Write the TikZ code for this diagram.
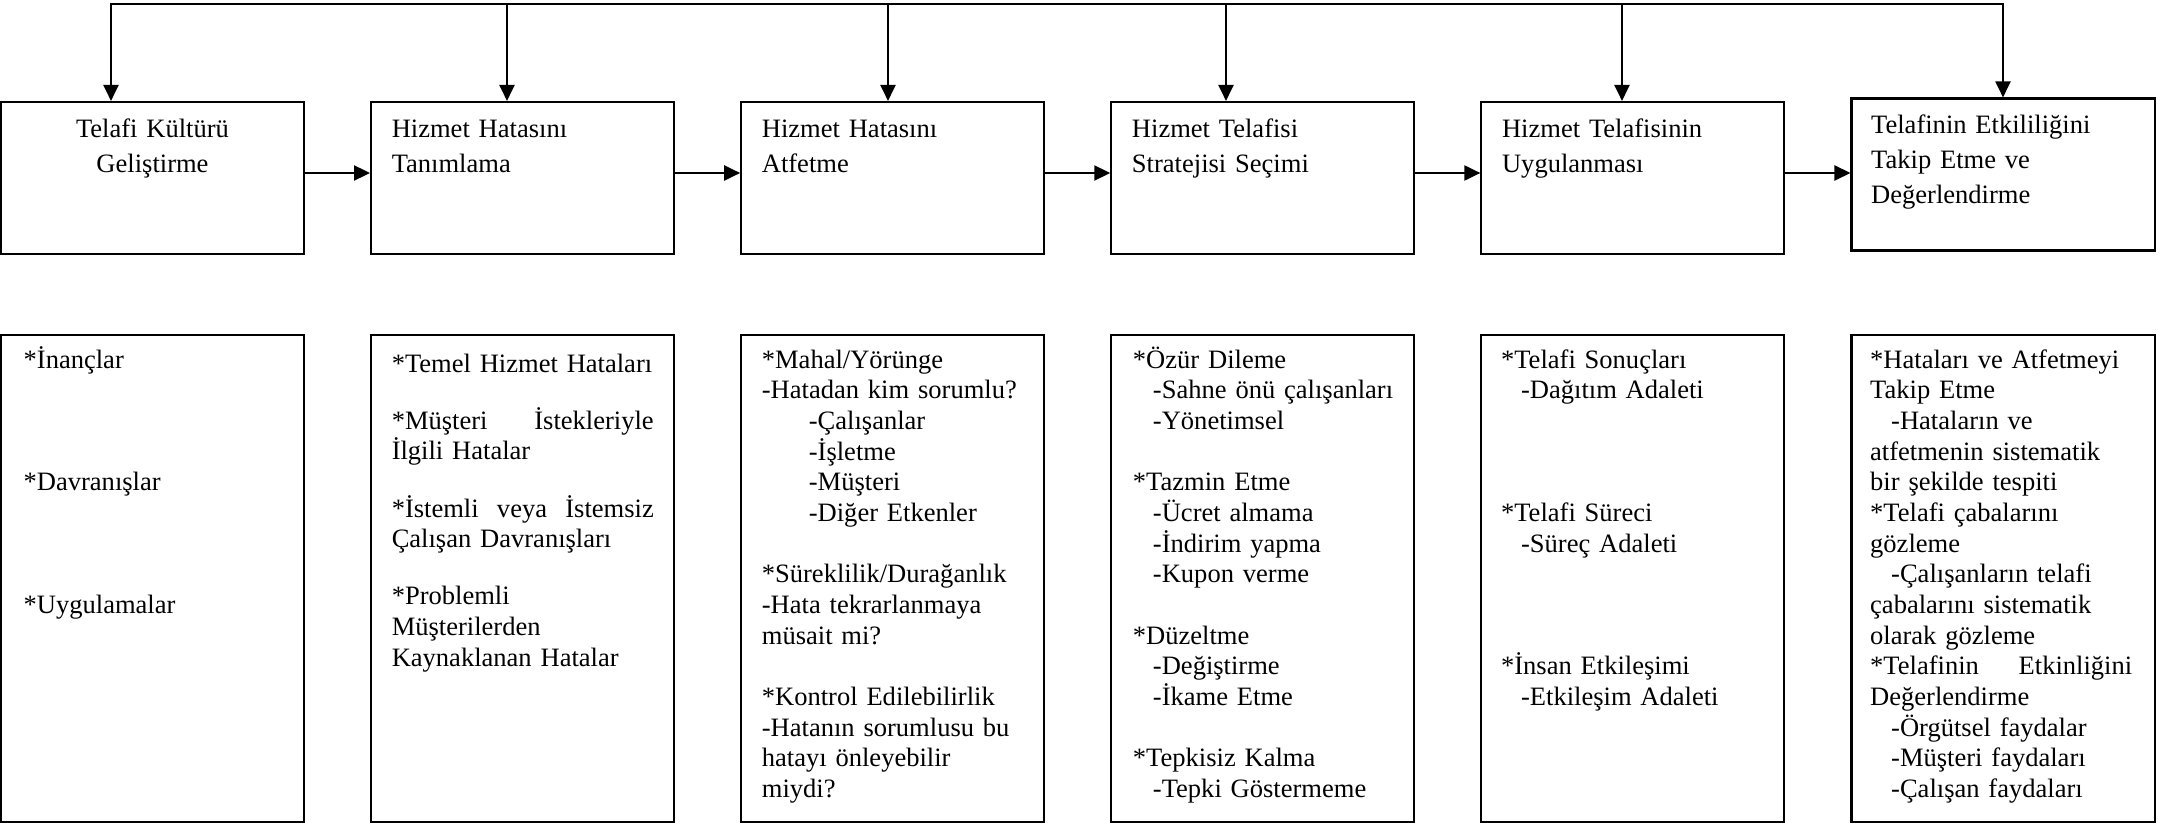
\documentclass[tikz,border=0pt]{standalone}
\usepackage{fontspec}
\setmainfont{Liberation Serif}
\usetikzlibrary{arrows.meta, positioning, calc}

\begin{document}
\begin{tikzpicture}[
    >={Triangle[length=0.16cm, width=0.15cm]},
    box/.style={draw, line width=0.6pt, minimum width=3.03cm, inner sep=0pt},
    stepbox/.style={box, minimum height=1.52cm},
    listbox/.style={box, minimum height=4.87cm},
    arr/.style={->, line width=0.6pt},
    bus/.style={line width=0.6pt, line cap=rect},
    head/.style={inner sep=0pt, anchor=base west, align=left, text width=2.8cm,
                 font=\fontsize{7.55}{9.96}\selectfont},
    items/.style={inner sep=0pt, anchor=base west, align=left, text width=2.75cm,
                  font=\fontsize{7.55}{8.73}\selectfont},
]
\useasboundingbox (0,0) rectangle (21.58,-8.23);
% === Adimlar (ust sira) ===
\node[stepbox] (kultur) at (1.525,-1.78) {};
\node[stepbox, right=0.65cm of kultur] (tanim) {};
\node[stepbox, right=0.65cm of tanim] (atif) {};
\node[stepbox, right=0.65cm of atif] (secim) {};
\node[stepbox, right=0.65cm of secim] (uygula) {};
\node[stepbox, right=0.65cm of uygula, yshift=0.035cm] (takip) {};
\node[head, anchor=base, align=center, text width=3.03cm] (kulturT) at ($(kultur.north)+(0,-0.37)$) {Telafi Kültürü\\Geliştirme};
\node[head] (tanimT) at ($(tanim.north west)+(0.21,-0.37)$) {Hizmet Hatasını\\Tanımlama};
\node[head] (atifT) at ($(atif.north west)+(0.21,-0.37)$) {Hizmet Hatasını\\Atfetme};
\node[head] (secimT) at ($(secim.north west)+(0.21,-0.37)$) {Hizmet Telafisi\\Stratejisi Seçimi};
\node[head] (uygulaT) at ($(uygula.north west)+(0.21,-0.37)$) {Hizmet Telafisinin\\Uygulanması};
\node[head] (takipT) at ($(takip.north west)+(0.20,-0.365)$) {Telafinin Etkililiğini\\Takip Etme ve\\Değerlendirme};
\draw[arr] ([yshift=0.05cm]kultur.east) -- ([yshift=0.05cm]tanim.west);
\draw[arr] ([yshift=0.05cm]tanim.east) -- ([yshift=0.05cm]atif.west);
\draw[arr] ([yshift=0.05cm]atif.east) -- ([yshift=0.05cm]secim.west);
\draw[arr] ([yshift=0.05cm]secim.east) -- ([yshift=0.05cm]uygula.west);
\draw[arr] ([yshift=0.05cm]uygula.east) -- ([yshift=0.05cm]uygula.east -| takip.west);
% === Geri besleme hatti ===
\coordinate (bus1) at (1.11,-0.04);
\coordinate (bus2) at (5.07,-0.04);
\coordinate (bus3) at (8.88,-0.04);
\coordinate (bus4) at (12.26,-0.04);
\coordinate (bus5) at (16.22,-0.04);
\coordinate (bus6) at (20.03,-0.04);
\draw[bus] (bus1) -- (bus6);
\draw[arr] (bus1) -- (bus1 |- kultur.north);
\draw[arr] (bus2) -- (bus2 |- tanim.north);
\draw[arr] (bus3) -- (bus3 |- atif.north);
\draw[arr] (bus4) -- (bus4 |- secim.north);
\draw[arr] (bus5) -- (bus5 |- uygula.north);
\draw[arr] (bus6) -- (bus6 |- takip.north);
% === Ayrintilar (alt sira) ===
\node[listbox, below=0.79cm of kultur] (kulturD) {};
\node[listbox, below=0.79cm of tanim] (tanimD) {};
\node[listbox, below=0.79cm of atif] (atifD) {};
\node[listbox, below=0.79cm of secim] (secimD) {};
\node[listbox, below=0.79cm of uygula] (uygulaD) {};
\node[listbox, below=0.825cm of takip] (takipD) {};
\node[items] (kulturL) at ($(kulturD.north west)+(0.23,-0.34)$) {%
*İnançlar\\[26.2pt]
{}*Davranışlar\\[26.2pt]
{}*Uygulamalar};
\node[items, text width=2.62cm] (tanimL) at ($(tanimD.north west)+(0.21,-0.38)$) {%
*Temel Hizmet Hataları\\[0.265cm]
{}*Müşteri\hfill İstekleriyle\\
İlgili Hatalar\\[0.265cm]
{}*İstemli\hfill veya\hfill İstemsiz\\
Çalışan Davranışları\\[0.265cm]
{}*Problemli\\
Müşterilerden\\
Kaynaklanan Hatalar};
\node[items] (atifL) at ($(atifD.north west)+(0.21,-0.34)$) {%
*Mahal/Yörünge\\
-Hatadan kim sorumlu?\\
\hspace*{0.47cm}-Çalışanlar\\
\hspace*{0.47cm}-İşletme\\
\hspace*{0.47cm}-Müşteri\\
\hspace*{0.47cm}-Diğer Etkenler\\[8.73pt]
{}*Süreklilik/Durağanlık\\
-Hata tekrarlanmaya\\
müsait mi?\\[8.73pt]
{}*Kontrol Edilebilirlik\\
-Hatanın sorumlusu bu\\
hatayı önleyebilir\\
miydi?};
\node[items] (secimL) at ($(secimD.north west)+(0.22,-0.34)$) {%
*Özür Dileme\\
\hspace*{0.2cm}-Sahne önü çalışanları\\
\hspace*{0.2cm}-Yönetimsel\\[8.73pt]
{}*Tazmin Etme\\
\hspace*{0.2cm}-Ücret almama\\
\hspace*{0.2cm}-İndirim yapma\\
\hspace*{0.2cm}-Kupon verme\\[8.73pt]
{}*Düzeltme\\
\hspace*{0.2cm}-Değiştirme\\
\hspace*{0.2cm}-İkame Etme\\[8.73pt]
{}*Tepkisiz Kalma\\
\hspace*{0.2cm}-Tepki Göstermeme};
\node[items] (uygulaL) at ($(uygulaD.north west)+(0.20,-0.34)$) {%
*Telafi Sonuçları\\
\hspace*{0.2cm}-Dağıtım Adaleti\\[26.2pt]
{}*Telafi Süreci\\
\hspace*{0.2cm}-Süreç Adaleti\\[26.2pt]
{}*İnsan Etkileşimi\\
\hspace*{0.2cm}-Etkileşim Adaleti};
\node[items, text width=2.62cm] (takipL) at ($(takipD.north west)+(0.19,-0.34)$) {%
*Hataları ve Atfetmeyi\\
Takip Etme\\
\hspace*{0.21cm}-Hataların ve\\
atfetmenin sistematik\\
bir şekilde tespiti\\
{}*Telafi çabalarını\\
gözleme\\
\hspace*{0.21cm}-Çalışanların telafi\\
çabalarını sistematik\\
olarak gözleme\\
{}*Telafinin\hfill Etkinliğini\\
Değerlendirme\\
\hspace*{0.21cm}-Örgütsel faydalar\\
\hspace*{0.21cm}-Müşteri faydaları\\
\hspace*{0.21cm}-Çalışan faydaları};
\end{tikzpicture}
\end{document}
